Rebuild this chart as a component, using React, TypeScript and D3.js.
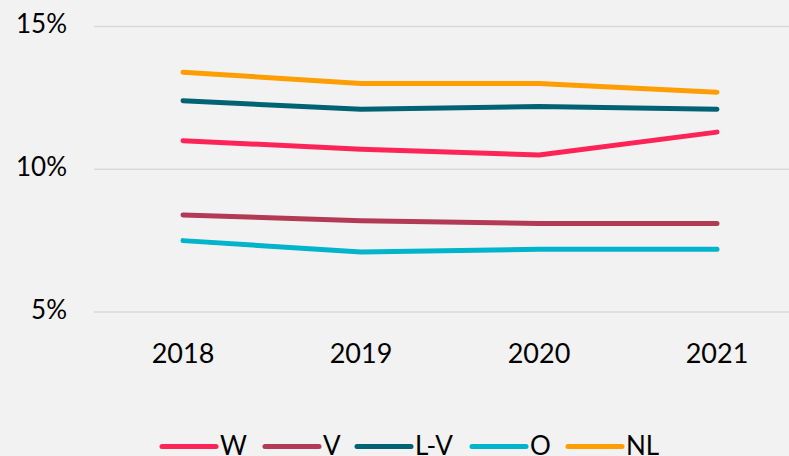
import React from "react";
import * as d3 from "d3";

const years = ["2018", "2019", "2020", "2021"];
const seriesNames = ["W", "V", "L-V", "O", "NL"];
const seriesColors = ["#ff2457", "#b23a55", "#006374", "#00b4cc", "#ff9e00"];
const valuesW = [11.0, 10.7, 10.5, 11.3];
const valuesV = [8.4, 8.2, 8.1, 8.1];
const valuesLV = [12.4, 12.1, 12.2, 12.1];
const valuesO = [7.5, 7.1, 7.2, 7.2];
const valuesNL = [13.4, 13.0, 13.0, 12.7];
const yTicks = [5, 10, 15];

const seriesValues = [valuesW, valuesV, valuesLV, valuesO, valuesNL];
const legendX = [162, 265, 357, 472, 568];

export default function App() {
  const W = 789, H = 456;
  const x = d3.scaleBand<string>().domain(years).range([94, 806]);
  const y = d3.scaleLinear().domain([5, 15]).range([312, 26.5]);
  const line = d3
    .line<number>()
    .x((_, i) => (x(years[i]) as number) + x.bandwidth() / 2)
    .y((v) => y(v));
  const font = "Lato, 'Open Sans', sans-serif";
  return (
    <svg
      width={W}
      height={H}
      style={{ position: "fixed", left: 0, top: 0, background: "#f2f2f2" }}
    >
      <rect x={0} y={0} width={W} height={H} fill="#f2f2f2" />
      {yTicks.map((t) => (
        <g key={t}>
          <line x1={94} x2={W} y1={y(t)} y2={y(t)} stroke="#d9d9d9" strokeWidth={1.5} />
          <text
            x={67}
            y={y(t)}
            textAnchor="end"
            dominantBaseline="middle"
            fontFamily={font}
            fontSize={26}
            fill="#000"
          >
            {t}%
          </text>
        </g>
      ))}
      {years.map((yr) => (
        <text
          key={yr}
          x={(x(yr) as number) + x.bandwidth() / 2}
          y={363}
          textAnchor="middle"
          fontFamily={font}
          fontSize={27}
          fill="#000"
        >
          {yr}
        </text>
      ))}
      {seriesValues.map((vals, i) => (
        <path
          key={seriesNames[i]}
          d={line(vals) || ""}
          fill="none"
          stroke={seriesColors[i]}
          strokeWidth={5}
          strokeLinecap="round"
          strokeLinejoin="round"
        />
      ))}
      {seriesNames.map((name, i) => (
        <g key={name}>
          <line
            x1={legendX[i]}
            x2={legendX[i] + 54}
            y1={446.5}
            y2={446.5}
            stroke={seriesColors[i]}
            strokeWidth={5}
            strokeLinecap="round"
          />
          <text
            x={legendX[i] + 58}
            y={454.5}
            fontFamily={font}
            fontSize={26}
            fill="#000"
          >
            {name}
          </text>
        </g>
      ))}
    </svg>
  );
}
